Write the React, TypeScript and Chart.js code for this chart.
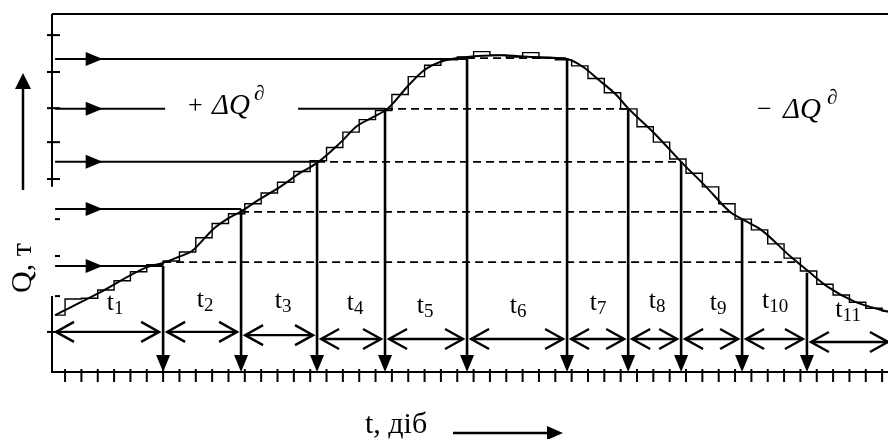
import React, { useEffect, useRef } from "react";
import { Chart, registerables } from "chart.js";

Chart.register(...registerables);

// ---- scale ranges (x: days, y: Q, tonnes in relative units) ----
const xMinDay = 0.2;
const xMaxDay = 51.36;
const qMin = 0;
const qMax = 10;

// ---- smooth accumulation curve ----
const curveDays = [0.39, 2.96, 6.02, 6.94, 7.92, 8.77, 9.26, 10.06, 10.91, 11.83, 12.75, 14.16, 15.38, 16.42, 17.83, 18.87, 19.85, 20.77, 21.93, 22.91, 23.95, 25.6, 27.62, 29.64, 31.72, 32.7, 33.74, 34.66, 35.45, 37.1, 38.7, 40.17, 41.7, 42.43, 43.6, 45.43, 46.47, 47.7, 49.35, 51.36];
const curveQ = [1.59, 2.18, 2.93, 3.04, 3.21, 3.38, 3.6, 3.99, 4.27, 4.5, 4.78, 5.17, 5.56, 5.84, 6.4, 6.87, 7.12, 7.37, 7.96, 8.41, 8.66, 8.8, 8.85, 8.8, 8.74, 8.52, 8.13, 7.77, 7.37, 6.65, 5.87, 5.2, 4.47, 4.27, 3.97, 3.21, 2.82, 2.37, 1.96, 1.68];

// ---- daily staircase (value holds from each day to the next) ----
const stepDays = [0.39, 1, 2, 3, 4, 5, 6, 7, 8, 9, 10, 11, 12, 13, 14, 15, 16, 17, 18, 19, 20, 21, 22, 23, 24, 25, 26, 27, 28, 29, 30, 31, 32, 33, 34, 35, 36, 37, 38, 39, 40, 41, 42, 43, 44, 45, 46, 47, 48, 49, 50, 51, 51.4];
const stepQ = [1.59, 2.04, 2.06, 2.29, 2.55, 2.8, 3.0, 3.1, 3.35, 3.75, 4.15, 4.42, 4.7, 5.0, 5.3, 5.6, 5.9, 6.27, 6.7, 7.05, 7.3, 7.75, 8.25, 8.57, 8.72, 8.8, 8.95, 8.85, 8.8, 8.92, 8.77, 8.72, 8.55, 8.2, 7.8, 7.35, 6.85, 6.42, 5.95, 5.55, 5.17, 4.7, 4.27, 3.97, 3.58, 3.18, 2.82, 2.45, 2.15, 1.95, 1.78, 1.7, 1.7];

// ---- discharge levels ----
const levelStartDay = 0.39;
const levelArrowTipDay = 3.3;
const levelQ = [8.74, 7.35, 5.87, 4.55, 2.96];
const levelRiseDay = [25.6, 20.58, 16.42, 11.77, 7.0];
const levelDashQ = [8.77, 7.35, 5.87, 4.47, 3.07];
const levelFallDay = [31.72, 35.45, 38.7, 41.7, 45.75];
const textGapDays = [7.12, 15.26]; // gap in level 2 line for "+ΔQ" label

// ---- period boundaries ----
const boundaryDays = [7.0, 11.77, 16.42, 20.58, 25.6, 31.72, 35.46, 38.7, 42.43, 46.4];
const boundaryTopQ = [2.96, 4.55, 5.87, 7.35, 8.74, 8.77, 7.37, 5.87, 4.27, 2.77];
const spanEndDay = 51.6;
const spanRowQ = [1.12, 1.12, 1.03, 0.92, 0.92, 0.92, 0.92, 0.92, 0.92, 0.92, 0.84];

// ---- period labels ----
const periodSubs = ["1", "2", "3", "4", "5", "6", "7", "8", "9", "10", "11"];
const labelDays = [4.06, 9.57, 14.34, 18.75, 23.03, 28.72, 33.62, 37.23, 40.96, 44.45, 48.92];
const labelQ = [1.73, 1.82, 1.79, 1.73, 1.65, 1.65, 1.73, 1.79, 1.73, 1.79, 1.54];

// ---- axis ticks ----
const xTickDays = [1, 2, 3, 4, 5, 6, 7, 8, 9, 10, 11, 12, 13, 14, 15, 16, 17, 18, 19, 20, 21, 22, 23, 24, 25, 26, 27, 28, 29, 30, 31, 32, 33, 34, 35, 36, 37, 38, 39, 40, 41, 42, 43, 44, 45, 46, 47, 48, 49, 50, 51];
const yCrossTickQ = [9.41, 8.38, 7.37, 6.42, 5.39, 1.12];
const yDashTickQ = [4.27, 3.24, 2.12];
const yAxisSegments = [[10, 5.2], [2.12, 0]];

const SERIF = '"Liberation Serif", "Times New Roman", serif';

const pts = (xs: number[], ys: number[]) => xs.map((x, i) => ({ x, y: ys[i] }));

const diagramPlugin = {
  id: "diagram",
  afterDatasetsDraw(chart: any) {
    const { ctx } = chart;
    const xs = chart.scales.x;
    const ys = chart.scales.y;
    const X = (d: number) => xs.getPixelForValue(d);
    const Y = (q: number) => ys.getPixelForValue(q);
    ctx.save();
    ctx.strokeStyle = "#000";
    ctx.fillStyle = "#000";
    const seg = (x1: number, y1: number, x2: number, y2: number, w: number) => {
      ctx.lineWidth = w;
      ctx.beginPath();
      ctx.moveTo(x1, y1);
      ctx.lineTo(x2, y2);
      ctx.stroke();
    };
    const tri = (tx: number, ty: number, dx: number, dy: number, len: number, hw: number) => {
      const bx = tx - dx * len;
      const by = ty - dy * len;
      ctx.beginPath();
      ctx.moveTo(tx, ty);
      ctx.lineTo(bx - dy * hw, by + dx * hw);
      ctx.lineTo(bx + dy * hw, by - dx * hw);
      ctx.closePath();
      ctx.fill();
    };
    const chevron = (tx: number, ty: number, dir: number) => {
      ctx.lineWidth = 2.4;
      ctx.beginPath();
      ctx.moveTo(tx + dir * 18, ty - 10);
      ctx.lineTo(tx, ty);
      ctx.lineTo(tx + dir * 18, ty + 10);
      ctx.stroke();
    };

    // frame: top border, bottom axis, left axis pieces
    seg(X(xMinDay), Y(qMax), X(xMaxDay) + 2, Y(qMax), 2);
    seg(X(xMinDay) - 1, Y(qMin), X(xMaxDay) + 2, Y(qMin), 2);
    yAxisSegments.forEach(([a, b]) => seg(X(xMinDay), Y(a), X(xMinDay), Y(b) + 1, 2));
    // ticks
    xTickDays.forEach((d) => seg(X(d), Y(qMin) - 3, X(d), Y(qMin) + 10, 2));
    yCrossTickQ.forEach((q) => seg(X(xMinDay) - 5, Y(q), X(xMinDay) + 8, Y(q), 2));
    yDashTickQ.forEach((q) => seg(X(xMinDay) + 3, Y(q), X(xMinDay) + 8, Y(q), 2));

    // horizontal arrowheads on level lines
    levelQ.forEach((q) => tri(X(levelArrowTipDay), Y(q), 1, 0, 17, 7));
    // vertical arrowheads at boundaries
    boundaryDays.forEach((d) => tri(X(d), Y(qMin), 0, 1, 17, 7));

    // double-headed span arrows
    const edges = [xMinDay, ...boundaryDays, spanEndDay];
    for (let i = 0; i < edges.length - 1; i++) {
      const a = X(edges[i]) + 4;
      const b = X(edges[i + 1]) - 4;
      const yy = Y(spanRowQ[i]);
      seg(a, yy, b, yy, 2.4);
      chevron(a, yy, 1);
      chevron(b, yy, -1);
    }

    // period labels t_i
    ctx.textBaseline = "alphabetic";
    ctx.textAlign = "left";
    const mainFont = `26px ${SERIF}`;
    const subFont = `19px ${SERIF}`;
    labelDays.forEach((d, i) => {
      ctx.font = mainFont;
      const wt = ctx.measureText("t").width;
      ctx.font = subFont;
      const ws = ctx.measureText(periodSubs[i]).width;
      const left = X(d) - (wt + ws) / 2;
      const by = Y(labelQ[i]);
      ctx.font = mainFont;
      ctx.fillText("t", left, by);
      ctx.font = subFont;
      ctx.fillText(periodSubs[i], left + wt, by + 4);
    });

    // +ΔQ∂ and −ΔQ∂
    const deltaLabel = (sign: string, sx: number, base: number, dx: number, supx: number) => {
      ctx.font = `26px ${SERIF}`;
      ctx.fillText(sign, sx, base - 1);
      ctx.font = `italic 29px ${SERIF}`;
      ctx.fillText("ΔQ", dx, base);
      ctx.font = `italic 21px ${SERIF}`;
      ctx.fillText("∂", supx, base - 14);
    };
    deltaLabel("+", 188, 114, 212, 254);
    deltaLabel("−", 757, 118, 783, 827);

    // vertical axis title and arrow
    ctx.save();
    ctx.translate(31, 268);
    ctx.rotate(-Math.PI / 2);
    ctx.textAlign = "center";
    ctx.font = `30px ${SERIF}`;
    ctx.fillText("Q, т", 0, 0);
    ctx.restore();
    seg(23, 190, 23, 86, 2.5);
    tri(23, 73, 0, -1, 16, 8);

    // horizontal axis title and arrow
    ctx.font = `30px ${SERIF}`;
    ctx.textAlign = "left";
    ctx.fillText("t, діб", 365, 433);
    seg(453, 433, 550, 433, 2.5);
    tri(563, 433, 1, 0, 16, 7);

    ctx.restore();
  },
};

export default function App() {
  const ref = useRef<HTMLCanvasElement | null>(null);
  useEffect(() => {
    if (!ref.current) return;
    const black = "#000";
    const datasets: any[] = [];
    datasets.push({
      data: pts(curveDays, curveQ),
      borderColor: black,
      borderWidth: 2,
      cubicInterpolationMode: "monotone",
      tension: 0.4,
    });
    datasets.push({
      data: pts(stepDays, stepQ),
      borderColor: black,
      borderWidth: 1.4,
      stepped: "before",
    });
    levelQ.forEach((q, i) => {
      if (i === 1) {
        datasets.push({ data: [{ x: levelStartDay, y: q }, { x: textGapDays[0], y: q }], borderColor: black, borderWidth: 2 });
        datasets.push({ data: [{ x: textGapDays[1], y: q }, { x: levelRiseDay[i], y: q }], borderColor: black, borderWidth: 2 });
      } else {
        datasets.push({ data: [{ x: levelStartDay, y: q }, { x: levelRiseDay[i], y: q }], borderColor: black, borderWidth: 2 });
      }
      datasets.push({
        data: [{ x: levelRiseDay[i], y: levelDashQ[i] }, { x: levelFallDay[i], y: levelDashQ[i] }],
        borderColor: black,
        borderWidth: 1.8,
        borderDash: [8, 5],
      });
    });
    boundaryDays.forEach((d, i) => {
      datasets.push({
        data: [{ x: d, y: boundaryTopQ[i] }, { x: d, y: qMin + 0.3 }],
        borderColor: black,
        borderWidth: 2.6,
      });
    });

    const chart = new Chart(ref.current, {
      type: "line",
      data: { datasets },
      options: {
        animation: false,
        responsive: false,
        maintainAspectRatio: false,
        devicePixelRatio: 1,
        events: [],
        layout: { padding: { left: 52, top: 14, right: 0, bottom: 67 } },
        elements: { point: { radius: 0 }, line: { fill: false } },
        plugins: { legend: { display: false }, tooltip: { enabled: false } },
        scales: {
          x: { type: "linear", min: xMinDay, max: xMaxDay, display: false },
          y: { type: "linear", min: qMin, max: qMax, display: false },
        },
      },
      plugins: [diagramPlugin],
    } as any);
    return () => chart.destroy();
  }, []);
  return (
    <canvas
      ref={ref}
      width={888}
      height={439}
      style={{ position: "absolute", left: 0, top: 0, width: 888, height: 439, background: "#fff" }}
    />
  );
}
